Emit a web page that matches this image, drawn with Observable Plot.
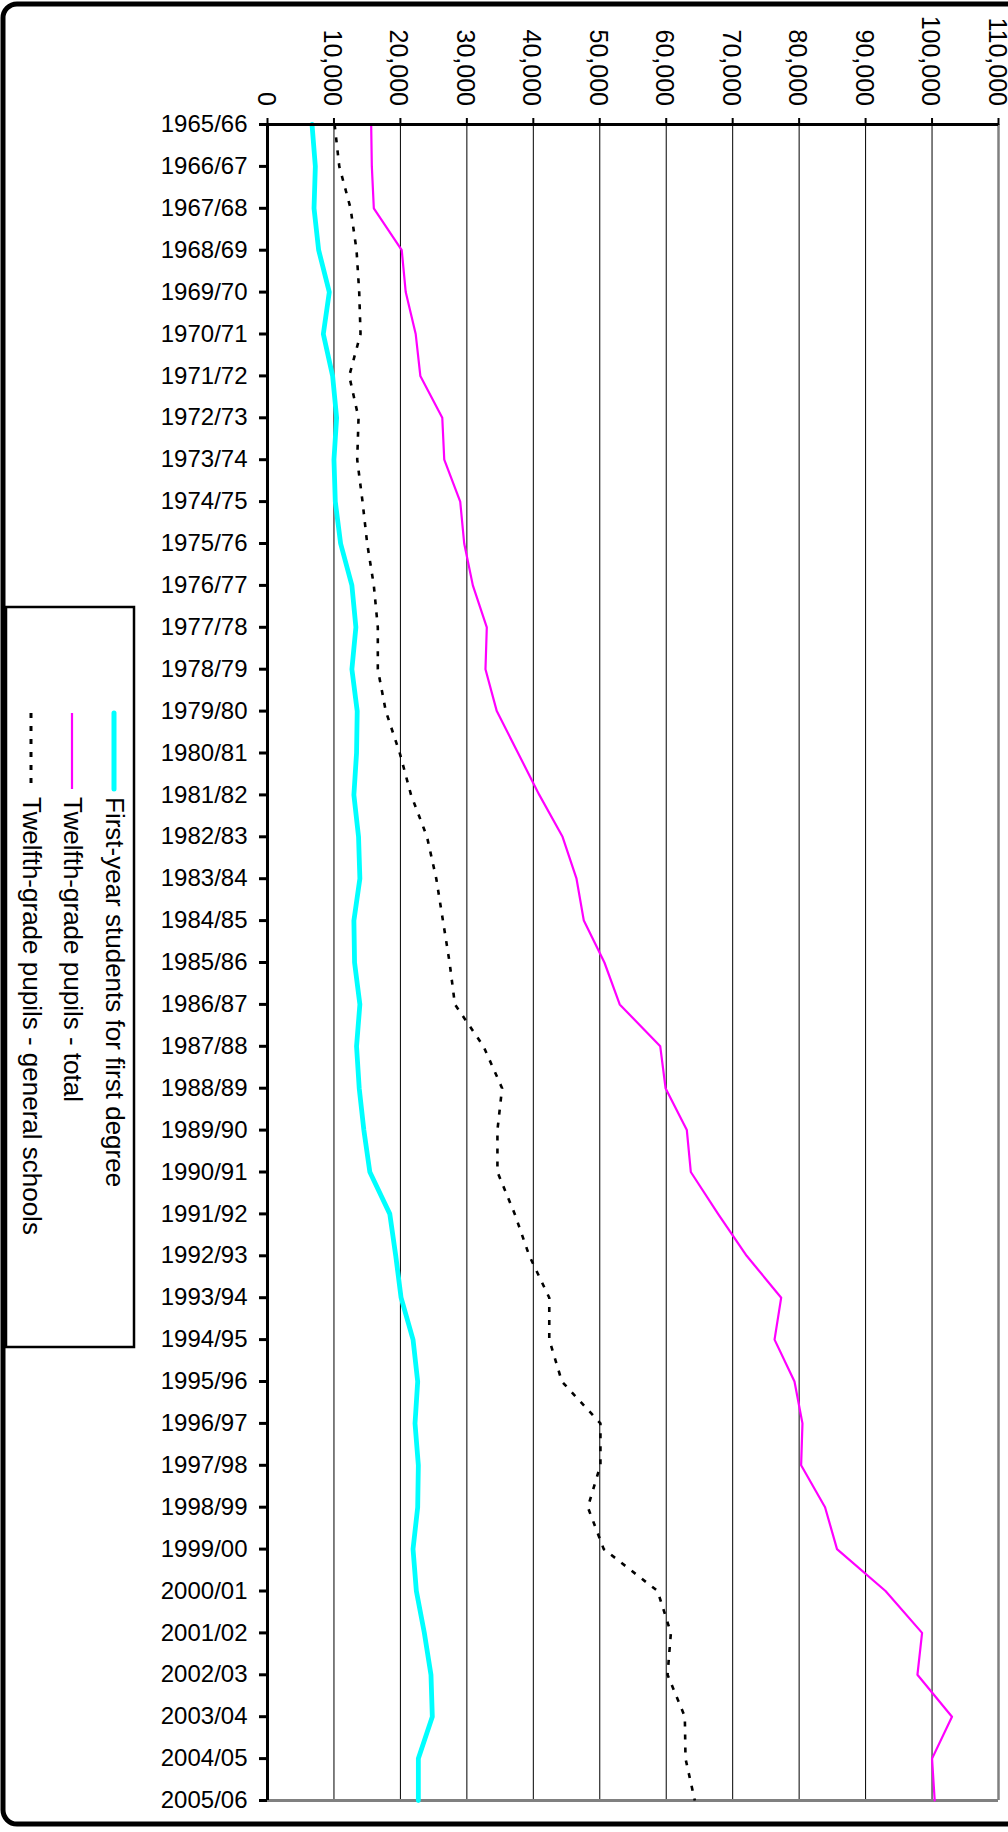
<!DOCTYPE html>
<html>
<head>
<meta charset="utf-8">
<script src="https://cdn.jsdelivr.net/npm/d3@7"></script>
<script src="https://cdn.jsdelivr.net/npm/@observablehq/plot@0.6"></script>
<style>
  html, body { margin: 0; padding: 0; background: #fff; }
  #chart svg { display: block; }
</style>
</head>
<body>
<div id="chart"></div>
<script>
const years = ["1965/66","1966/67","1967/68","1968/69","1969/70","1970/71","1971/72","1972/73","1973/74","1974/75",
  "1975/76","1976/77","1977/78","1978/79","1979/80","1980/81","1981/82","1982/83","1983/84","1984/85",
  "1985/86","1986/87","1987/88","1988/89","1989/90","1990/91","1991/92","1992/93","1993/94","1994/95",
  "1995/96","1996/97","1997/98","1998/99","1999/00","2000/01","2001/02","2002/03","2003/04","2004/05","2005/06"];

// values in persons
const firstYearStudents = [6700,7200,7000,7700,9300,8400,9800,10400,10000,10200,
  11000,12700,13300,12700,13500,13400,13000,13700,13900,13000,
  13100,13900,13400,13800,14500,15400,18400,19300,20100,21900,
  22600,22200,22700,22600,21900,22400,23600,24600,24800,22700,22700];

const twelfthTotal = [15600,15700,16000,20200,20800,22300,23000,26300,26600,29000,
  29600,30900,33000,32800,34500,37700,40900,44400,46500,47600,
  50700,53000,59100,59900,63100,63700,67800,72100,77300,76300,
  79300,80500,80300,83900,85700,93000,98500,97800,103000,100000,100400];

const twelfthGeneral = [10100,10800,12500,13400,13800,14000,12300,13700,13500,14300,
  15000,16000,16600,16600,17800,19900,21600,24000,25400,26400,
  27400,28200,32500,35300,34600,34600,37200,39400,42400,42400,
  44300,50100,50100,48200,50600,58700,60700,60200,62800,62900,64300];

const xTicks = [0,10000,20000,30000,40000,50000,60000,70000,80000,90000,100000,110000];
const gridValues = [10000,20000,30000,40000,50000,60000,70000,80000,90000,100000];

const seriesNames = ["First-year students for first degree","Twelfth-grade pupils - total","Twelfth-grade pupils - general schools"];
const seriesColors = ["#00FFFF","#FF00FF","#000000"];

const toRows = vals => years.map((y, i) => ({year: y, value: vals[i]}));
const fmt = d3.format(",");

const chart = Plot.plot({
  width: 1008,
  height: 1832,
  marginLeft: 267,
  marginRight: 10,
  marginTop: 124,
  marginBottom: 32,
  style: {fontFamily: "'Liberation Sans', Arial, sans-serif", fontSize: "24px", background: "#fff", color: "#000", overflow: "visible"},
  x: {domain: [0, 110000]},
  y: {type: "point", domain: years, padding: 0},
  marks: [
    Plot.ruleX(gridValues, {stroke: "#000", strokeWidth: 1}),
    Plot.ruleX([110000], {stroke: "#808080", strokeWidth: 2.5}),
    Plot.ruleY([years[years.length - 1]], {stroke: "#808080", strokeWidth: 3}),
    Plot.line(toRows(twelfthGeneral), {x: "value", y: "year", stroke: seriesColors[2], strokeWidth: 2.6, strokeDasharray: "5,8", strokeLinecap: "butt"}),
    Plot.line(toRows(twelfthTotal), {x: "value", y: "year", stroke: seriesColors[1], strokeWidth: 2.2}),
    Plot.line(toRows(firstYearStudents), {x: "value", y: "year", stroke: seriesColors[0], strokeWidth: 4.8}),
    Plot.ruleY([years[0]], {stroke: "#000", strokeWidth: 3}),
    Plot.ruleX([0], {stroke: "#000", strokeWidth: 3}),
    Plot.axisY({tickSize: 8, tickPadding: 12, fontSize: 24, strokeWidth: 3, label: null}),
    Plot.axisX(xTicks, {anchor: "top", tickSize: 7, tickFormat: () => "", strokeWidth: 2, label: null}),
    Plot.text(xTicks, {x: d => d, text: d => fmt(d), frameAnchor: "top", rotate: 90, textAnchor: "end", lineAnchor: "middle", dx: -2, dy: -18.5, fontSize: 25, fill: "#000"})
  ]
});

document.getElementById("chart").appendChild(chart);

// legend and outer frame
const svg = d3.select(chart);
const lg = svg.append("g");
lg.append("rect").attr("x", 6).attr("y", 607).attr("width", 128).attr("height", 740)
  .attr("fill", "#fff").attr("stroke", "#000").attr("stroke-width", 2.5);
const legendX = [114, 72, 31];
const legendW = [5, 2.2, 3];
seriesNames.forEach((name, i) => {
  const ln = lg.append("line").attr("x1", legendX[i]).attr("x2", legendX[i])
    .attr("y1", 713).attr("y2", 789)
    .attr("stroke", seriesColors[i]).attr("stroke-width", legendW[i]);
  if (i === 0) ln.attr("stroke-linecap", "round");
  if (i === 2) ln.attr("stroke-dasharray", "5,8");
  lg.append("text").attr("transform", `translate(${legendX[i]},797) rotate(90)`)
    .attr("dy", "0.32em").attr("font-size", 26).attr("fill", "#000")
    .attr("text-anchor", "start")
    .attr("font-family", "'Liberation Sans', Arial, sans-serif")
    .text(name);
});
svg.append("rect").attr("x", 3).attr("y", 4).attr("width", 1040).attr("height", 1820)
  .attr("rx", 14).attr("fill", "none").attr("stroke", "#000").attr("stroke-width", 5);
</script>
</body>
</html>
